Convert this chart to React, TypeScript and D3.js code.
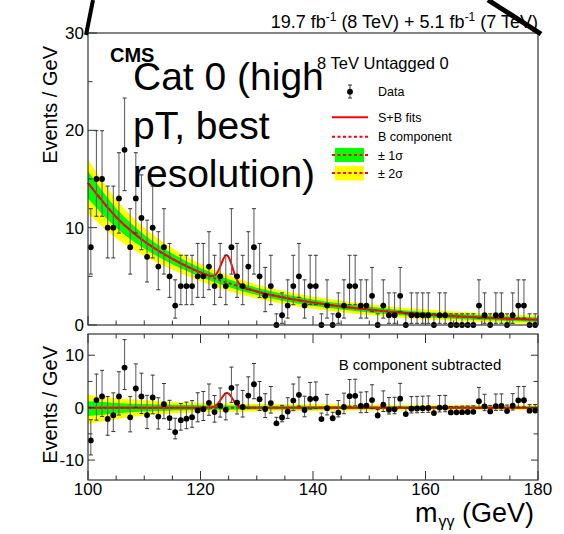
import React, { useEffect, useRef } from 'react';
import * as d3 from 'd3';

// events per 1 GeV bin: 100-101, 101-102, ... 179-180
const counts = [
  8, 15, 15, 10, 10, 13, 18, 8, 13, 11,
  7, 10, 6, 8, 5, 2, 4, 4, 4, 5,
  5, 6, 4, 5, 4, 8, 5, 4, 6, 8,
  5, 3, 4, 0, 1, 2, 4, 5, 2, 4,
  4, 0, 2, 0, 1, 2, 4, 4, 2, 2,
  3, 0, 2, 1, 1, 3, 0, 1, 1, 1,
  1, 0, 1, 1, 0, 0, 0, 0, 0, 2,
  1, 0, 1, 1, 0, 1, 2, 2, 0, 0,
];

// background fit and its uncertainty bands
const bkgMass = [100, 105, 110, 115, 120, 125, 130, 135, 140, 145, 150, 155, 160, 165, 170, 175, 180];
const bkgValue = [14.6, 11.1, 8.6, 6.8, 5.4, 4.3, 3.45, 2.8, 2.3, 1.9, 1.58, 1.3, 1.08, 0.9, 0.76, 0.64, 0.54];
const err1Up = [1.2, 0.9, 0.68, 0.54, 0.45, 0.4, 0.37, 0.35, 0.33, 0.31, 0.29, 0.27, 0.26, 0.25, 0.24, 0.23, 0.22];
const err1Down = [1.6, 1.1, 0.75, 0.56, 0.45, 0.4, 0.37, 0.35, 0.33, 0.31, 0.29, 0.27, 0.26, 0.25, 0.24, 0.23, 0.22];
const err2Up = [2.4, 1.8, 1.4, 1.08, 0.9, 0.8, 0.72, 0.67, 0.63, 0.59, 0.56, 0.53, 0.5, 0.48, 0.46, 0.45, 0.44];
const err2Down = [3.1, 2.2, 1.5, 1.12, 0.9, 0.8, 0.72, 0.67, 0.63, 0.59, 0.56, 0.53, 0.5, 0.48, 0.46, 0.45, 0.44];

// signal part of the S+B fit
const sigMass = [120, 121, 122, 122.5, 123, 123.5, 124, 124.5, 124.7, 125, 125.5, 126, 126.5, 127, 127.5, 128, 129, 130];
const sigValue = [0, 0.01, 0.07, 0.25, 0.66, 1.36, 2.19, 2.74, 2.8, 2.68, 2.03, 1.2, 0.56, 0.2, 0.055, 0.012, 0, 0];

// poisson intervals for n = 0..20
const poissonLow = [0, 0.173, 0.708, 1.367, 2.086, 2.84, 3.62, 4.419, 5.232, 6.057, 6.891, 7.734, 8.585, 9.441, 10.3, 11.17, 12.04, 12.92, 13.8, 14.68, 15.57];
const poissonHigh = [1.148, 3.3, 4.638, 5.918, 7.163, 8.382, 9.584, 10.77, 11.95, 13.11, 14.27, 15.42, 16.56, 17.7, 18.83, 19.96, 21.08, 22.2, 23.32, 24.44, 25.55];

const xLabels = [100, 120, 140, 160, 180];
const topYLabels = [0, 10, 20, 30];
const botYLabels = [-10, 0, 10];

const FONT = '"Liberation Sans", Arial, Helvetica, sans-serif';

export default function App() {
  const ref = useRef<SVGSVGElement>(null);

  useEffect(() => {
    const svg = d3.select(ref.current);
    svg.selectAll('*').remove();

    const left = 88, right = 538;
    const x = d3.scaleLinear().domain([100, 180]).range([left, right]);
    const yTop = d3.scaleLinear().domain([0, 30]).range([325, 33]);
    const yBot = d3.scaleLinear().domain([-13.8, 14.05]).range([480, 334]);

    const bkgAt = d3.scaleLinear().domain(bkgMass).range(bkgValue);
    const sigScale = d3.scaleLinear().domain(sigMass).range(sigValue);
    const sigAt = (m: number) => (m < sigMass[0] || m > sigMass[sigMass.length - 1] ? 0 : sigScale(m));

    const idx = d3.range(bkgMass.length);
    const centers = counts.map((_, i) => 100.5 + i);
    const curveMass = Array.from(new Set([...bkgMass, ...sigMass])).sort((a, b) => a - b);

    svg.append('rect').attr('width', 564).attr('height', 534).attr('fill', '#fff');

    const drawPanel = (y: d3.ScaleLinear<number, number>, base: (i: number) => number, isTop: boolean) => {
      const g = svg.append('g');
      const band = (up: number[], dn: number[], color: string) => {
        g.append('path')
          .datum(idx)
          .attr('fill', color)
          .attr('d', d3.area<number>()
            .x(i => x(bkgMass[i]))
            .y0(i => y(base(i) - dn[i]))
            .y1(i => y(base(i) + up[i]))
            .curve(d3.curveMonotoneX));
      };
      band(err2Up, err2Down, '#ffff00');
      band(err1Up, err1Down, '#00ff00');

      // B component
      g.append('path')
        .datum(idx)
        .attr('fill', 'none')
        .attr('stroke', '#ff0000')
        .attr('stroke-width', 2)
        .attr('stroke-dasharray', '3,2.5')
        .attr('d', d3.line<number>().x(i => x(bkgMass[i])).y(i => y(base(i))).curve(d3.curveMonotoneX));

      // S+B
      g.append('path')
        .datum(curveMass)
        .attr('fill', 'none')
        .attr('stroke', '#ff0000')
        .attr('stroke-width', 2)
        .attr('d', d3.line<number>()
          .x(m => x(m))
          .y(m => y((isTop ? bkgAt(m) : 0) + sigAt(m)))
          .curve(d3.curveMonotoneX));

      // data
      counts.forEach((n, i) => {
        const off = isTop ? 0 : bkgAt(centers[i]);
        const cx = x(centers[i]);
        const y1 = y(poissonLow[n] - off);
        const y2 = y(poissonHigh[n] - off);
        g.append('line').attr('x1', cx).attr('x2', cx).attr('y1', y1).attr('y2', y2)
          .attr('stroke', '#666').attr('stroke-width', 1.1);
        [y1, y2].forEach(yy => {
          g.append('line').attr('x1', cx - 2).attr('x2', cx + 2).attr('y1', yy).attr('y2', yy)
            .attr('stroke', '#333').attr('stroke-width', 1);
        });
        g.append('circle').attr('cx', cx).attr('cy', y(n - off)).attr('r', 2.9).attr('fill', '#000');
      });
    };

    drawPanel(yTop, i => bkgValue[i], true);
    drawPanel(yBot, () => 0, false);

    // frames and ticks
    const axes = svg.append('g').attr('stroke', '#333').attr('fill', 'none');
    axes.append('rect').attr('x', left).attr('y', 33).attr('width', right - left).attr('height', 292).attr('stroke-width', 1.2);
    axes.append('rect').attr('x', left).attr('y', 334).attr('width', right - left).attr('height', 146).attr('stroke-width', 1.2);

    const massTicks = d3.range(100, 181, 5);
    massTicks.forEach(m => {
      const len = m % 20 === 0 ? 9 : 4.5;
      const tx = x(m);
      axes.append('line').attr('x1', tx).attr('x2', tx).attr('y1', 325).attr('y2', 325 - len);
      axes.append('line').attr('x1', tx).attr('x2', tx).attr('y1', 480).attr('y2', 480 - len);
      axes.append('line').attr('x1', tx).attr('x2', tx).attr('y1', 334).attr('y2', 334 + len);
    });
    d3.range(0, 31, 5).forEach(v => {
      const len = v % 10 === 0 ? 9 : 4.5;
      axes.append('line').attr('x1', left).attr('x2', left + len).attr('y1', yTop(v)).attr('y2', yTop(v));
    });
    d3.range(-10, 11, 5).forEach(v => {
      const len = v % 10 === 0 ? 7 : 4.5;
      axes.append('line').attr('x1', left).attr('x2', left + len).attr('y1', yBot(v)).attr('y2', yBot(v));
      axes.append('line').attr('x1', right).attr('x2', right - len).attr('y1', yBot(v)).attr('y2', yBot(v));
    });

    const txt = svg.append('g').attr('font-family', FONT).attr('fill', '#000');

    topYLabels.forEach(v => {
      txt.append('text').attr('x', 84).attr('y', yTop(v)).attr('dy', '0.36em')
        .attr('text-anchor', 'end').attr('font-size', 17).text(v);
    });
    botYLabels.forEach(v => {
      txt.append('text').attr('x', 84).attr('y', yBot(v)).attr('dy', '0.36em')
        .attr('text-anchor', 'end').attr('font-size', 17).text(v);
    });
    xLabels.forEach(v => {
      txt.append('text').attr('x', x(v)).attr('y', 495)
        .attr('text-anchor', 'middle').attr('font-size', 17).text(v);
    });

    // axis titles
    txt.append('text').attr('transform', 'translate(57,46) rotate(-90)')
      .attr('text-anchor', 'end').attr('font-size', 20).text('Events / GeV');
    txt.append('text').attr('transform', 'translate(57,346) rotate(-90)')
      .attr('text-anchor', 'end').attr('font-size', 20).text('Events / GeV');
    const xt = txt.append('text').attr('x', 534).attr('y', 522).attr('text-anchor', 'end').attr('font-size', 27);
    xt.append('tspan').text('m');
    xt.append('tspan').attr('font-size', 16).attr('dy', 5).attr('dx', 1).text('γγ');
    xt.append('tspan').attr('dy', -5).text(' (GeV)');

    // lumi title
    const t = txt.append('text').attr('x', 538).attr('y', 28).attr('text-anchor', 'end').attr('font-size', 18);
    t.append('tspan').text('19.7 fb');
    t.append('tspan').attr('font-size', 12).attr('dy', -7).text('-1');
    t.append('tspan').attr('dy', 7).text(' (8 TeV) + 5.1 fb');
    t.append('tspan').attr('font-size', 12).attr('dy', -7).text('-1');
    t.append('tspan').attr('dy', 7).text(' (7 TeV)');

    txt.append('text').attr('x', 110).attr('y', 62).attr('font-size', 20).attr('font-weight', 'bold').text('CMS');
    txt.append('text').attr('x', 317).attr('y', 69).attr('font-size', 16.5).text('8 TeV Untagged 0');
    ['Cat 0 (high', 'pT, best', 'resolution)'].forEach((s, i) => {
      txt.append('text').attr('x', 133).attr('y', 90 + i * 48.5).attr('font-size', 39).text(s);
    });
    txt.append('text').attr('x', 420).attr('y', 370).attr('text-anchor', 'middle').attr('font-size', 15)
      .text('B component subtracted');

    // legend
    const lg = svg.append('g');
    lg.append('line').attr('x1', 350).attr('x2', 350).attr('y1', 85).attr('y2', 98).attr('stroke', '#333');
    lg.append('line').attr('x1', 348).attr('x2', 352).attr('y1', 85).attr('y2', 85).attr('stroke', '#333');
    lg.append('line').attr('x1', 348).attr('x2', 352).attr('y1', 98).attr('y2', 98).attr('stroke', '#333');
    lg.append('circle').attr('cx', 350).attr('cy', 91.7).attr('r', 2.9).attr('fill', '#000');
    lg.append('line').attr('x1', 332).attr('x2', 368).attr('y1', 117.3).attr('y2', 117.3)
      .attr('stroke', '#ff0000').attr('stroke-width', 2);
    lg.append('line').attr('x1', 332).attr('x2', 368).attr('y1', 136.7).attr('y2', 136.7)
      .attr('stroke', '#ff0000').attr('stroke-width', 2).attr('stroke-dasharray', '3,2.5');
    lg.append('rect').attr('x', 335).attr('y', 148).attr('width', 29).attr('height', 14).attr('fill', '#00ff00');
    lg.append('line').attr('x1', 332).attr('x2', 368).attr('y1', 155).attr('y2', 155)
      .attr('stroke', '#ff0000').attr('stroke-width', 2).attr('stroke-dasharray', '3,2.5');
    lg.append('rect').attr('x', 335).attr('y', 166).attr('width', 29).attr('height', 14.5).attr('fill', '#ffff00');
    lg.append('line').attr('x1', 332).attr('x2', 368).attr('y1', 173).attr('y2', 173)
      .attr('stroke', '#ff0000').attr('stroke-width', 2).attr('stroke-dasharray', '3,2.5');
    const legendText = [['Data', 96], ['S+B fits', 122], ['B component', 141], ['± 1σ', 160], ['± 2σ', 178]];
    legendText.forEach(([s, yy]) => {
      txt.append('text').attr('x', 378).attr('y', yy).attr('font-size', 12.5).text(s);
    });

    // stray thick strokes at the top
    svg.append('line').attr('x1', 93).attr('y1', 0).attr('x2', 86).attr('y2', 35)
      .attr('stroke', '#000').attr('stroke-width', 4);
    svg.append('line').attr('x1', 488).attr('y1', 0).attr('x2', 541).attr('y2', 34)
      .attr('stroke', '#000').attr('stroke-width', 5);
  }, []);

  return (
    <div style={{ position: 'absolute', left: 0, top: 0 }}>
      <svg ref={ref} width={564} height={534} style={{ display: 'block' }} />
    </div>
  );
}
